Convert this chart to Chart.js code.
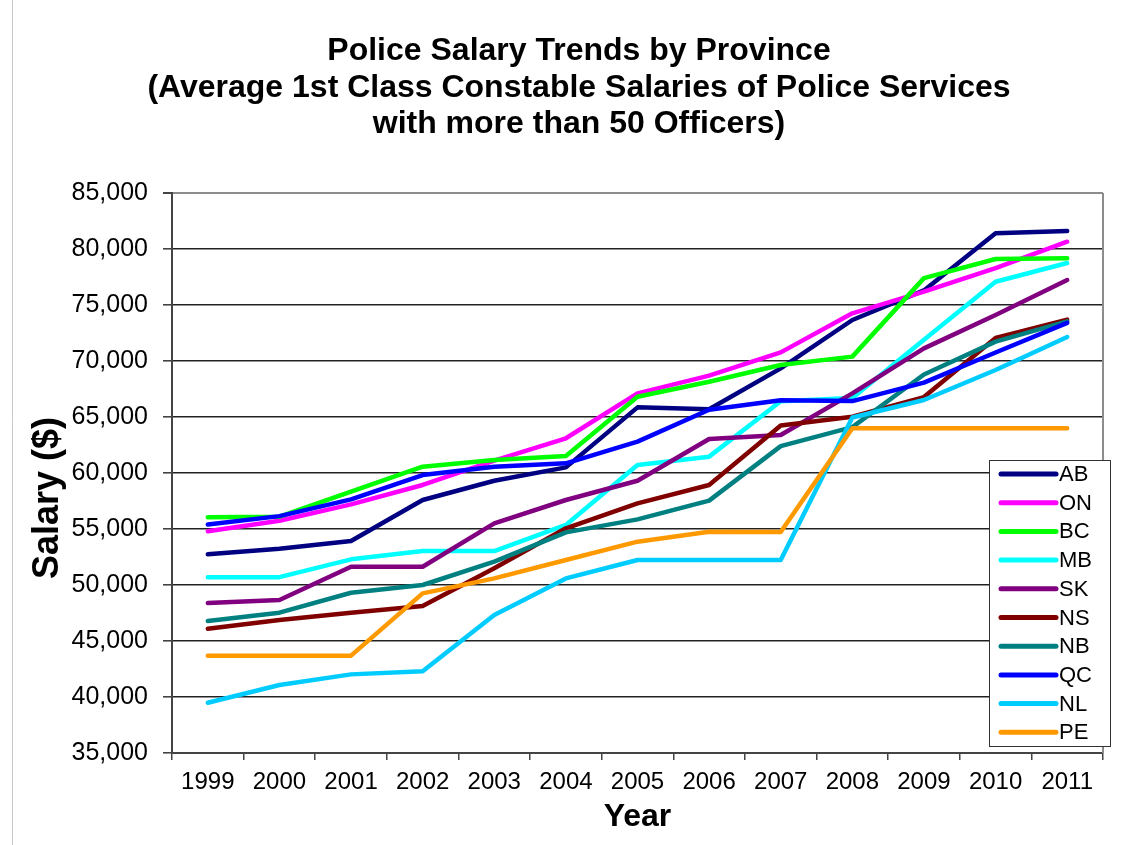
<!DOCTYPE html>
<html lang="en">
<head>
<meta charset="UTF-8">
<title>Police Salary Trends by Province</title>
<script src="https://cdn.jsdelivr.net/npm/chart.js"></script>
<style>
  body { margin: 0; background: #fff; }
  canvas { display: block; }
</style>
</head>
<body>
<canvas id="salaryChart" width="1128" height="845"></canvas>
<script>
// values
const years = ['1999', '2000', '2001', '2002', '2003', '2004', '2005', '2006', '2007', '2008', '2009', '2010', '2011'];

const AB = [52740, 53240, 53930, 57590, 59310, 60500, 65860, 65690, 69340, 73660, 76300, 81400, 81600];
const ON = [54800, 55740, 57200, 58930, 61100, 63100, 67110, 68690, 70770, 74260, 76200, 78300, 80650];
const BC = [56040, 56100, 58330, 60560, 61160, 61520, 66810, 68150, 69640, 70390, 77400, 79110, 79170];
const MB = [50700, 50700, 52290, 53030, 53030, 55360, 60710, 61460, 66400, 66700, 71900, 77080, 78750];
const SK = [48390, 48660, 51630, 51630, 55500, 57590, 59310, 63030, 63390, 67110, 71130, 74110, 77230];
const NS = [46100, 46870, 47530, 48120, 51490, 55060, 57290, 58930, 64240, 65030, 66780, 72060, 73700];
const NB = [46780, 47530, 49310, 50000, 52080, 54700, 55860, 57530, 62400, 64100, 68800, 71730, 73540];
const QC = [55400, 56150, 57650, 59820, 60560, 60860, 62800, 65650, 66490, 66420, 68070, 70760, 73400];
const NL = [39490, 41070, 42020, 42300, 47320, 50590, 52230, 52230, 52230, 64950, 66520, 69200, 72140];
const PE = [43690, 43690, 43690, 49250, 50590, 52230, 53870, 54760, 54730, 64000, 64000, 64000, 64000];

const provinces = ['AB', 'ON', 'BC', 'MB', 'SK', 'NS', 'NB', 'QC', 'NL', 'PE'];
const seriesValues = [AB, ON, BC, MB, SK, NS, NB, QC, NL, PE];
const lineColors = ['#000080', '#ff00ff', '#00ff00', '#00ffff', '#800080', '#800000', '#008080', '#0000ff', '#00ccff', '#ff9900'];

const titleLines = [
    'Police Salary Trends by Province',
    '(Average 1st Class Constable Salaries of Police Services',
    'with more than 50 Officers)'
];
const yTitle = 'Salary ($)';
const xTitle = 'Year';

const FONT = "'Liberation Sans', Arial, Helvetica, sans-serif";

// title, y axis title, plot border and the legend box inside the plot
const decorations = {
    id: 'decorations',
    beforeDraw(chart) {
        const ctx = chart.ctx;
        ctx.save();
        ctx.fillStyle = '#fff';
        ctx.fillRect(0, 0, chart.width, chart.height);
        ctx.strokeStyle = '#c8c8c8';
        ctx.lineWidth = 1;
        ctx.beginPath();
        ctx.moveTo(12.5, 0);
        ctx.lineTo(12.5, chart.height);
        ctx.stroke();
        ctx.restore();
    },
    afterDraw(chart) {
        const ctx = chart.ctx;
        const area = chart.chartArea;
        ctx.save();

        ctx.fillStyle = '#000';
        ctx.font = 'bold 32px ' + FONT;
        ctx.textAlign = 'center';
        ctx.textBaseline = 'alphabetic';
        titleLines.forEach((t, i) => ctx.fillText(t, 579, 60 + i * 36.5));

        ctx.save();
        ctx.translate(48, 498);
        ctx.rotate(-Math.PI / 2);
        ctx.font = 'bold 36px ' + FONT;
        ctx.textBaseline = 'middle';
        ctx.fillText(yTitle, 0, 0);
        ctx.restore();

        ctx.strokeStyle = '#8c8c8c';
        ctx.lineWidth = 2;
        ctx.beginPath();
        ctx.moveTo(area.right, area.top);
        ctx.lineTo(area.right, area.bottom);
        ctx.stroke();

        // legend
        const lx = 989, ly = 460, lw = 121, lh = 286;
        ctx.fillStyle = '#fff';
        ctx.fillRect(lx, ly, lw, lh);
        ctx.strokeStyle = '#333';
        ctx.lineWidth = 1;
        ctx.strokeRect(lx + 0.5, ly + 0.5, lw, lh);
        chart.data.datasets.forEach((ds, i) => {
            const y = 474 + i * 28.7;
            ctx.strokeStyle = ds.borderColor;
            ctx.lineWidth = 5;
            ctx.lineCap = 'round';
            ctx.beginPath();
            ctx.moveTo(1001, y);
            ctx.lineTo(1056, y);
            ctx.stroke();
            ctx.fillStyle = '#000';
            ctx.font = '22px ' + FONT;
            ctx.textAlign = 'left';
            ctx.textBaseline = 'middle';
            ctx.fillText(ds.label, 1059, y + 1);
        });
        ctx.restore();
    }
};

const datasets = provinces.map((name, i) => ({
    label: name,
    data: seriesValues[i],
    borderColor: lineColors[i],
    backgroundColor: lineColors[i],
    borderWidth: 4.5,
    pointRadius: 0,
    pointHoverRadius: 0,
    tension: 0,
    fill: false,
    borderCapStyle: 'round',
    borderJoinStyle: 'round',
    order: provinces.length - i
}));

const ctx = document.getElementById('salaryChart').getContext('2d');
const salaryChart = new Chart(ctx, {
    type: 'line',
    data: { labels: years, datasets: datasets },
    options: {
        responsive: false,
        animation: false,
        layout: { padding: { top: 193, right: 25, left: 0, bottom: 0 } },
        plugins: {
            legend: { display: false },
            title: { display: false },
            tooltip: { enabled: false }
        },
        scales: {
            x: {
                type: 'category',
                offset: true,
                afterFit(scale) { scale.height = 92; },
                grid: {
                    offset: true,
                    drawOnChartArea: false,
                    drawTicks: true,
                    tickLength: 7,
                    color: '#444',
                    lineWidth: 1.5
                },
                border: { color: '#444', width: 2 },
                ticks: {
                    color: '#000',
                    padding: 8,
                    maxRotation: 0,
                    autoSkip: false,
                    font: { family: FONT, size: 24 }
                },
                title: {
                    display: true,
                    text: xTitle,
                    color: '#000',
                    font: { family: FONT, size: 32, weight: 'bold' },
                    padding: { top: 0, bottom: 9 }
                }
            },
            y: {
                min: 35000,
                max: 85000,
                afterFit(scale) { scale.width = 172; },
                grid: {
                    color: c => (c.tick && c.tick.value === 85000) ? '#8c8c8c' : '#222',
                    lineWidth: c => (c.tick && c.tick.value === 85000) ? 2 : 1.6,
                    tickColor: '#444',
                    tickLength: 9
                },
                border: { color: '#444', width: 2 },
                ticks: {
                    stepSize: 5000,
                    color: '#000',
                    padding: 15,
                    font: { family: FONT, size: 25 },
                    callback: v => v.toLocaleString('en-US')
                }
            }
        }
    },
    plugins: [decorations]
});
</script>
</body>
</html>
